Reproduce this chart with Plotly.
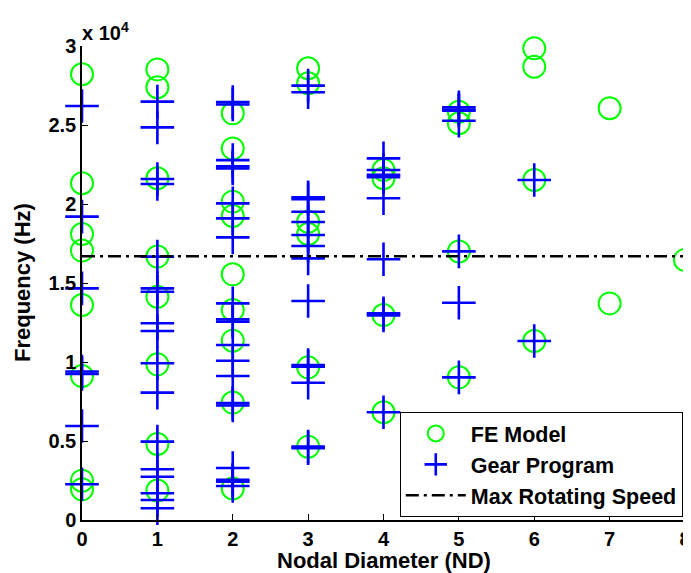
import plotly.graph_objects as go

# ---------------- data ----------------
fe_nd0 = [28210, 21310, 18100, 17050, 13610, 9110, 2490, 1940]
fe_nd1 = [28520, 27390, 21630, 16670, 14130, 9850, 4810, 1860]
fe_nd2 = [25740, 23520, 20150, 19240, 15550, 13290, 11350, 7430, 2000]
fe_nd3 = [28590, 27640, 18880, 18100, 9660, 4640]
fe_nd4 = [22150, 21630, 12970, 6820]
fe_nd5 = [25840, 25110, 17000, 9030]
fe_nd6 = [29850, 28690, 21520, 11330]
fe_nd7 = [26060, 13710]
fe_nd8 = [16460]

gear_nd0 = [26200, 19200, 14660, 9400, 9250, 5950, 2260]
gear_nd1 = [26480, 24850, 21580, 21270, 16670, 14660, 14450, 12450, 11960,
            9920, 8060, 4960, 3210, 2740, 1690, 1270, 740]
gear_nd2 = [26450, 26300, 22780, 22380, 22250, 20040, 19090, 17890, 13710,
            12700, 12550, 11080, 10080, 9110, 7400, 7250, 3290, 2550, 2430, 2150]
gear_nd3 = [27490, 27070, 20420, 20300, 19510, 18860, 18040, 17340, 16560,
            13860, 9800, 9700, 8690, 4650, 4550]
gear_nd4 = [22890, 22150, 21850, 21700, 20360, 16500, 13080, 12950, 6820]
gear_nd5 = [26120, 25980, 25900, 25270, 17000, 13750, 9030]
gear_nd6 = [21520, 11330]

max_speed = 16700
max_speed_nd = [0, 8]

y_tickvals = [0, 5000, 10000, 15000, 20000, 25000, 30000]
y_ticktext = ["0", "0.5", "1", "1.5", "2", "2.5", "3"]
x_tickvals = [0, 1, 2, 3, 4, 5, 6, 7, 8]

fe_sets = [fe_nd0, fe_nd1, fe_nd2, fe_nd3, fe_nd4, fe_nd5, fe_nd6, fe_nd7, fe_nd8]
gear_sets = [gear_nd0, gear_nd1, gear_nd2, gear_nd3, gear_nd4, gear_nd5, gear_nd6]

fe_x, fe_y = [], []
for nd, vals in enumerate(fe_sets):
    fe_x += [nd] * len(vals)
    fe_y += vals
gear_x, gear_y = [], []
for nd, vals in enumerate(gear_sets):
    gear_x += [nd] * len(vals)
    gear_y += vals

FONT = "Liberation Sans, Arial, sans-serif"

fig = go.Figure()
fig.add_trace(go.Scatter(
    x=fe_x, y=fe_y, mode="markers", name="FE Model",
    marker=dict(symbol="circle-open", size=22, color="#00ff00",
                line=dict(width=2, color="#00ff00")),
    cliponaxis=False))
fig.add_trace(go.Scatter(
    x=gear_x, y=gear_y, mode="markers", name="Gear Program",
    marker=dict(symbol="cross-thin-open", size=24, color="#0000ff",
                line=dict(width=2.6, color="#0000ff")),
    cliponaxis=False))
fig.add_trace(go.Scatter(
    x=max_speed_nd, y=[max_speed] * len(max_speed_nd), mode="lines",
    name="Max Rotating Speed",
    line=dict(color="black", width=2.5, dash="13px,5px,3px,5px"),
    cliponaxis=False))

# page body has an 8px default margin, so the figure is 8px smaller
fig.update_layout(
    width=683, height=565,
    margin=dict(l=74, r=6, t=38, b=53),
    paper_bgcolor="white", plot_bgcolor="white",
    font=dict(family=FONT, size=21, color="black", weight="bold"),
    showlegend=True,
    legend=dict(x=0.527, y=0.228, xanchor="left", yanchor="top",
                bgcolor="white", bordercolor="black", borderwidth=1,
                font=dict(size=21.5, weight="bold"), itemwidth=60, tracegroupgap=0),
    xaxis=dict(range=[0, 8], tickvals=x_tickvals, ticks="inside", ticklen=6,
               tickwidth=1.2, tickcolor="black", showgrid=False, zeroline=False,
               showline=True, linecolor="black", linewidth=1.5, mirror=False,
               automargin=False, tickfont=dict(size=20, weight="bold")),
    yaxis=dict(range=[0, 30000], tickvals=y_tickvals, ticktext=y_ticktext,
               ticks="inside", ticklen=6, tickwidth=1.2, tickcolor="black",
               showgrid=False, zeroline=False, showline=True, linecolor="black",
               linewidth=1.5, mirror=False, automargin=False,
               tickfont=dict(size=20, weight="bold")),
    annotations=[
        dict(text="x 10<sup>4</sup>", xref="paper", yref="paper",
             x=0, y=1, xanchor="left", yanchor="bottom", showarrow=False,
             font=dict(size=20, weight="bold"), xshift=-2, yshift=0),
        dict(text="Nodal Diameter (ND)", xref="paper", yref="paper",
             x=0.5, y=-0.086, xanchor="center", yanchor="middle",
             showarrow=False, font=dict(size=22, weight="bold")),
        dict(text="Frequency (Hz)", xref="paper", yref="paper",
             x=-0.0995, y=0.5, xanchor="center", yanchor="middle",
             textangle=-90, showarrow=False, font=dict(size=22, weight="bold")),
    ],
)

fig.write_html("out.html")
